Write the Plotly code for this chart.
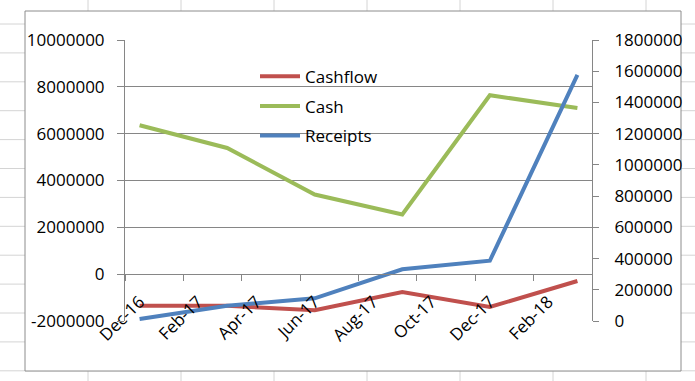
import plotly.graph_objects as go
import pandas as pd

# ---- data ----
dates = ["Dec-16", "Mar-17", "Jun-17", "Sep-17", "Dec-17", "Mar-18"]
cashflow = [-1350000, -1350000, -1540000, -760000, -1400000, -290000]
cash = [6360000, 5390000, 3400000, 2550000, 7640000, 7100000]
receipts = [13000, 98000, 145000, 331000, 386000, 1576000]

axis_labels = ["Dec-16", "Feb-17", "Apr-17", "Jun-17", "Aug-17", "Oct-17", "Dec-17", "Feb-18"]
left_vals = [-2000000, 0, 2000000, 4000000, 6000000, 8000000, 10000000]
left_text = ["-2000000", "0", "2000000", "4000000", "6000000", "8000000", "10000000"]
right_vals = [0, 200000, 400000, 600000, 800000, 1000000, 1200000, 1400000, 1600000, 1800000]
right_text = ["0", "200000", "400000", "600000", "800000", "1000000", "1200000", "1400000", "1600000", "1800000"]

# month index derived from the date strings (Excel date axis, base unit = month)
start = pd.Period("2016-12", freq="M")
def midx(s):
    p = pd.Period(pd.to_datetime(s, format="%b-%y"), freq="M")
    return (p - start).n
x_data = [midx(d) for d in dates]
x_lab = [midx(d) for d in axis_labels]
n_months = midx("Mar-18") + 1
x_bounds = [v - 0.5 for v in x_lab] + [n_months - 0.5]

FONT = "Open Sans"
FS = 17
GRID = "#868686"
RED, GREEN, BLUE = "#C0504D", "#9BBB59", "#4F81BD"

W, H = 695, 381
L, R, T, B = 125, 592, 40, 321  # plot area in px

def px(x):
    return (x - L) / (R - L)

def py(y):
    return (B - y) / (B - T)

fig = go.Figure()
fig.add_trace(go.Scatter(x=x_data, y=cashflow, name="Cashflow", mode="lines",
                         line=dict(color=RED, width=4), legend="legend"))
fig.add_trace(go.Scatter(x=x_data, y=cash, name="Cash", mode="lines",
                         line=dict(color=GREEN, width=4), legend="legend2"))
fig.add_trace(go.Scatter(x=x_data, y=receipts, name="Receipts", mode="lines",
                         line=dict(color=BLUE, width=4), yaxis="y2", legend="legend3"))

shapes = []
# spreadsheet grid
for k in range(13):
    yy = 24 + 28.9 * k
    shapes.append(dict(type="line", xref="paper", yref="paper", x0=px(-5), x1=px(700),
                       y0=py(yy), y1=py(yy), line=dict(color="#d4d4d4", width=1), layer="below"))
for k in range(7):
    xx = 88 + 93 * k
    shapes.append(dict(type="line", xref="paper", yref="paper", x0=px(xx), x1=px(xx),
                       y0=py(-5), y1=py(390), line=dict(color="#d4d4d4", width=1), layer="below"))
# chart area
shapes.append(dict(type="rect", xref="paper", yref="paper", x0=px(25), x1=px(681),
                   y0=py(371), y1=py(11), fillcolor="white",
                   line=dict(color="#8c8c8c", width=1), layer="below"))

zero_pos = (0 - left_vals[0]) / (left_vals[-1] - left_vals[0])

legend_common = dict(font=dict(family=FONT, size=FS, color="black"), bgcolor="rgba(0,0,0,0)",
                     xanchor="left", yanchor="middle", itemwidth=40, visible=True)

fig.update_layout(
    width=W, height=H,
    margin=dict(l=L, r=W - R, t=T, b=H - B),
    paper_bgcolor="white", plot_bgcolor="rgba(0,0,0,0)",
    font=dict(family=FONT, size=FS, color="black"),
    showlegend=True,
    shapes=shapes,
    xaxis=dict(range=[-0.5, n_months - 0.5], tickmode="array", tickvals=x_lab, ticktext=axis_labels,
               tickangle=-45, ticks="", showgrid=False, zeroline=False,
               showline=True, linecolor=GRID, linewidth=1,
               anchor="free", position=zero_pos, ticklabelstandoff=10,
               minor=dict(tickmode="array", tickvals=x_bounds, ticks="outside", ticklen=6,
                          tickcolor=GRID, showgrid=False),
               tickfont=dict(family=FONT, size=FS)),
    yaxis=dict(range=[left_vals[0], left_vals[-1]], tickmode="array", tickvals=left_vals,
               ticktext=left_text, showgrid=True, gridcolor=GRID, gridwidth=1,
               zeroline=False, showline=True, linecolor=GRID, ticks="outside",
               ticklen=7, tickcolor=GRID, ticklabelstandoff=9),
    yaxis2=dict(range=[right_vals[0], right_vals[-1]], tickmode="array", tickvals=right_vals,
                ticktext=right_text, overlaying="y", side="right", showgrid=False,
                zeroline=False, showline=True, linecolor=GRID, ticks="outside",
                ticklen=6, tickcolor=GRID, ticklabelstandoff=12),
    legend=dict(x=px(255), y=py(76.7), **legend_common),
    legend2=dict(x=px(255), y=py(106.4), **legend_common),
    legend3=dict(x=px(255), y=py(136), **legend_common),
)

fig.write_html("out.html", config={"displayModeBar": False},
               post_script="document.body.style.margin='0';")
